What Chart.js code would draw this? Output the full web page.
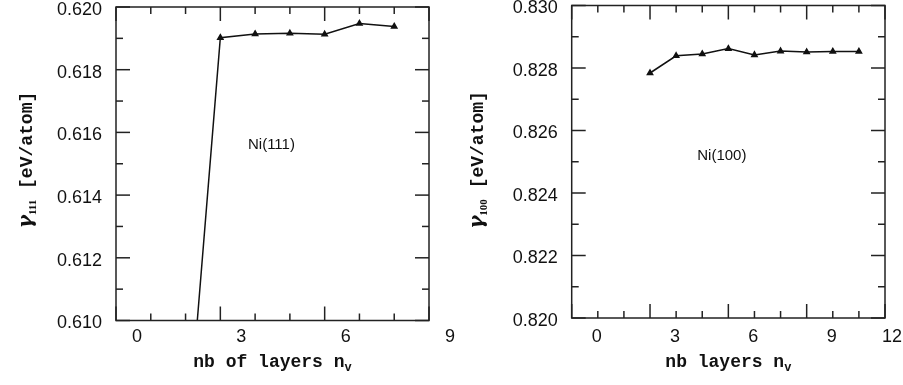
<!DOCTYPE html>
<html>
<head>
<meta charset="utf-8">
<script src="https://cdn.jsdelivr.net/npm/chart.js@4.4.0/dist/chart.umd.min.js"></script>
<style>
  body { margin: 0; background: #fff; }
  #wrap { position: relative; width: 903px; height: 385px; overflow: hidden; }
  canvas { position: absolute; top: 0; }
</style>
</head>
<body>
<div id="wrap">
  <canvas id="chart111" width="460" height="385" style="left:0px"></canvas>
  <canvas id="chart100" width="452" height="385" style="left:451px"></canvas>
</div>
<script>
// Ni(111) panel
var layers111 = [2, 3, 4, 5, 6, 7, 8];
var gamma111 = [0.6054, 0.61902, 0.61914, 0.61916, 0.61913, 0.61947, 0.61938];
var xLabels111 = [0, 3, 6, 9];
var yLabels111 = [0.610, 0.612, 0.614, 0.616, 0.618, 0.620];

// Ni(100) panel
var layers100 = [3, 4, 5, 6, 7, 8, 9, 10, 11];
var gamma100 = [0.82784, 0.82839, 0.82845, 0.82862, 0.82842, 0.82854, 0.82851, 0.82853, 0.82853];
var xLabels100 = [0, 3, 6, 9, 12];
var yLabels100 = [0.820, 0.822, 0.824, 0.826, 0.828, 0.830];

var SANS = '"Liberation Sans", Arial, sans-serif';
var MONO = '"Liberation Mono", monospace';

// text made of pieces (for subscripts), anchored at its baseline centre
function drawRich(ctx, parts, cx, cy, rot) {
  ctx.save();
  ctx.translate(cx, cy);
  ctx.rotate(rot);
  var total = 0;
  parts.forEach(function(p) { ctx.font = p.font; p.w = ctx.measureText(p.text).width; total += p.w; });
  var x = -total / 2;
  ctx.textAlign = 'left';
  ctx.textBaseline = 'alphabetic';
  parts.forEach(function(p) { ctx.font = p.font; ctx.fillText(p.text, x, p.dy || 0); x += p.w; });
  ctx.restore();
}

// frame, inward ticks on all four sides, x labels, axis titles, panel label
var frameTicks = {
  id: 'frameTicks',
  afterDatasetsDraw: function(chart, args, opts) {
    var ctx = chart.ctx, a = chart.chartArea;
    var xs = chart.scales.x, ys = chart.scales.y;
    function seg(x1, y1, x2, y2) {
      ctx.beginPath(); ctx.moveTo(x1, y1); ctx.lineTo(x2, y2); ctx.stroke();
    }
    ctx.save();
    ctx.strokeStyle = '#222';
    ctx.lineWidth = 1.5;
    ctx.strokeRect(a.left, a.top, a.right - a.left, a.bottom - a.top);
    xs.ticks.forEach(function(t) {
      var px = xs.getPixelForValue(t.value);
      var len = Math.round(t.value) % 3 === 0 ? 14 : 7;
      seg(px, a.bottom, px, a.bottom - len);
      seg(px, a.top, px, a.top + len);
    });
    ys.ticks.forEach(function(t) {
      var py = ys.getPixelForValue(t.value);
      var len = Math.round(t.value * 1000) % 2 === 0 ? 14 : 7;
      seg(a.left, py, a.left + len, py);
      seg(a.right, py, a.right - len, py);
    });

    ctx.fillStyle = '#111';
    ctx.font = '18px ' + SANS;
    ctx.textAlign = 'center';
    ctx.textBaseline = 'middle';
    opts.xLabels.forEach(function(v) {
      var s = String(v);
      var half = ctx.measureText(s).width / 2;
      var px = Math.min(xs.getPixelForValue(v) + opts.xShift, chart.width - half - 1);
      ctx.fillText(s, px, a.bottom + opts.xLabelDy);
    });

    drawRich(ctx, [
      { text: opts.xTitle, font: 'bold 18px ' + MONO },
      { text: 'v', font: 'bold 12px ' + MONO, dy: 4 }
    ], (a.left + a.right) / 2, 366.5, 0);

    drawRich(ctx, [
      { text: '\u03B3', font: 'italic bold 20px "DejaVu Serif", serif' },
      { text: opts.ySub, font: 'bold 11px "Liberation Serif", serif', dy: 4 },
      { text: ' [eV/atom]', font: 'bold 18px ' + MONO }
    ], 31.5, 160, -Math.PI / 2);

    ctx.font = '15px ' + SANS;
    ctx.textAlign = 'center';
    ctx.textBaseline = 'middle';
    ctx.fillText(opts.text, xs.getPixelForValue(opts.x), ys.getPixelForValue(opts.y));
    ctx.restore();
  }
};

function makePanel(id, xv, yv, xMax, yMin, yMax, yLabels, geo, note) {
  new Chart(id, {
    type: 'scatter',
    data: {
      datasets: [{
        data: xv.map(function(x, i) { return { x: x, y: yv[i] }; }),
        showLine: true,
        borderColor: '#111',
        backgroundColor: '#111',
        borderWidth: 1.5,
        pointStyle: 'triangle',
        pointRadius: 3,
        clip: 0
      }]
    },
    options: {
      responsive: false,
      animation: false,
      events: [],
      layout: { padding: { top: geo.top, right: geo.right, left: 0, bottom: 0 } },
      plugins: {
        legend: { display: false },
        tooltip: { enabled: false },
        frameTicks: note
      },
      scales: {
        x: {
          type: 'linear', min: 0, max: xMax,
          grid: { display: false, drawTicks: false },
          border: { display: false },
          ticks: { stepSize: 1, autoSkip: false, display: false },
          afterFit: function(s) {
            s.height = geo.xH;
            s.paddingLeft = 0; s.paddingRight = 0; s.paddingTop = 0; s.paddingBottom = 0;
          }
        },
        y: {
          type: 'linear', min: yMin, max: yMax,
          grid: { display: false, drawTicks: false },
          border: { display: false },
          afterFit: function(s) {
            s.width = geo.yW;
            s.paddingLeft = 0; s.paddingRight = 0; s.paddingTop = 0; s.paddingBottom = 0;
          },
          ticks: {
            stepSize: 0.001, autoSkip: false, padding: geo.yPad, color: '#111',
            labelOffset: geo.yShift,
            font: { family: SANS, size: 18 },
            callback: function(v) {
              var k = Math.round(v * 1000);
              for (var i = 0; i < yLabels.length; i++) {
                if (Math.round(yLabels[i] * 1000) === k) return yLabels[i].toFixed(3);
              }
              return '';
            }
          }
        }
      }
    },
    plugins: [frameTicks]
  });
}

makePanel('chart111', layers111, gamma111, 9, 0.610, 0.620, yLabels111,
  { top: 7, right: 31, xH: 64.5, yW: 116, yPad: 14, yShift: 3 },
  { text: 'Ni(111)', x: 4.47, y: 0.6156, xLabels: xLabels111, xShift: 21, xLabelDy: 17,
    xTitle: 'nb of layers n', ySub: '111' });

makePanel('chart100', layers100, gamma100, 12, 0.820, 0.830, yLabels100,
  { top: 5, right: 18, xH: 67, yW: 120.7, yPad: 14, yShift: 3 },
  { text: 'Ni(100)', x: 5.75, y: 0.82518, xLabels: xLabels100, xShift: 25, xLabelDy: 19.5,
    xTitle: 'nb layers n', ySub: '100' });
</script>
</body>
</html>
